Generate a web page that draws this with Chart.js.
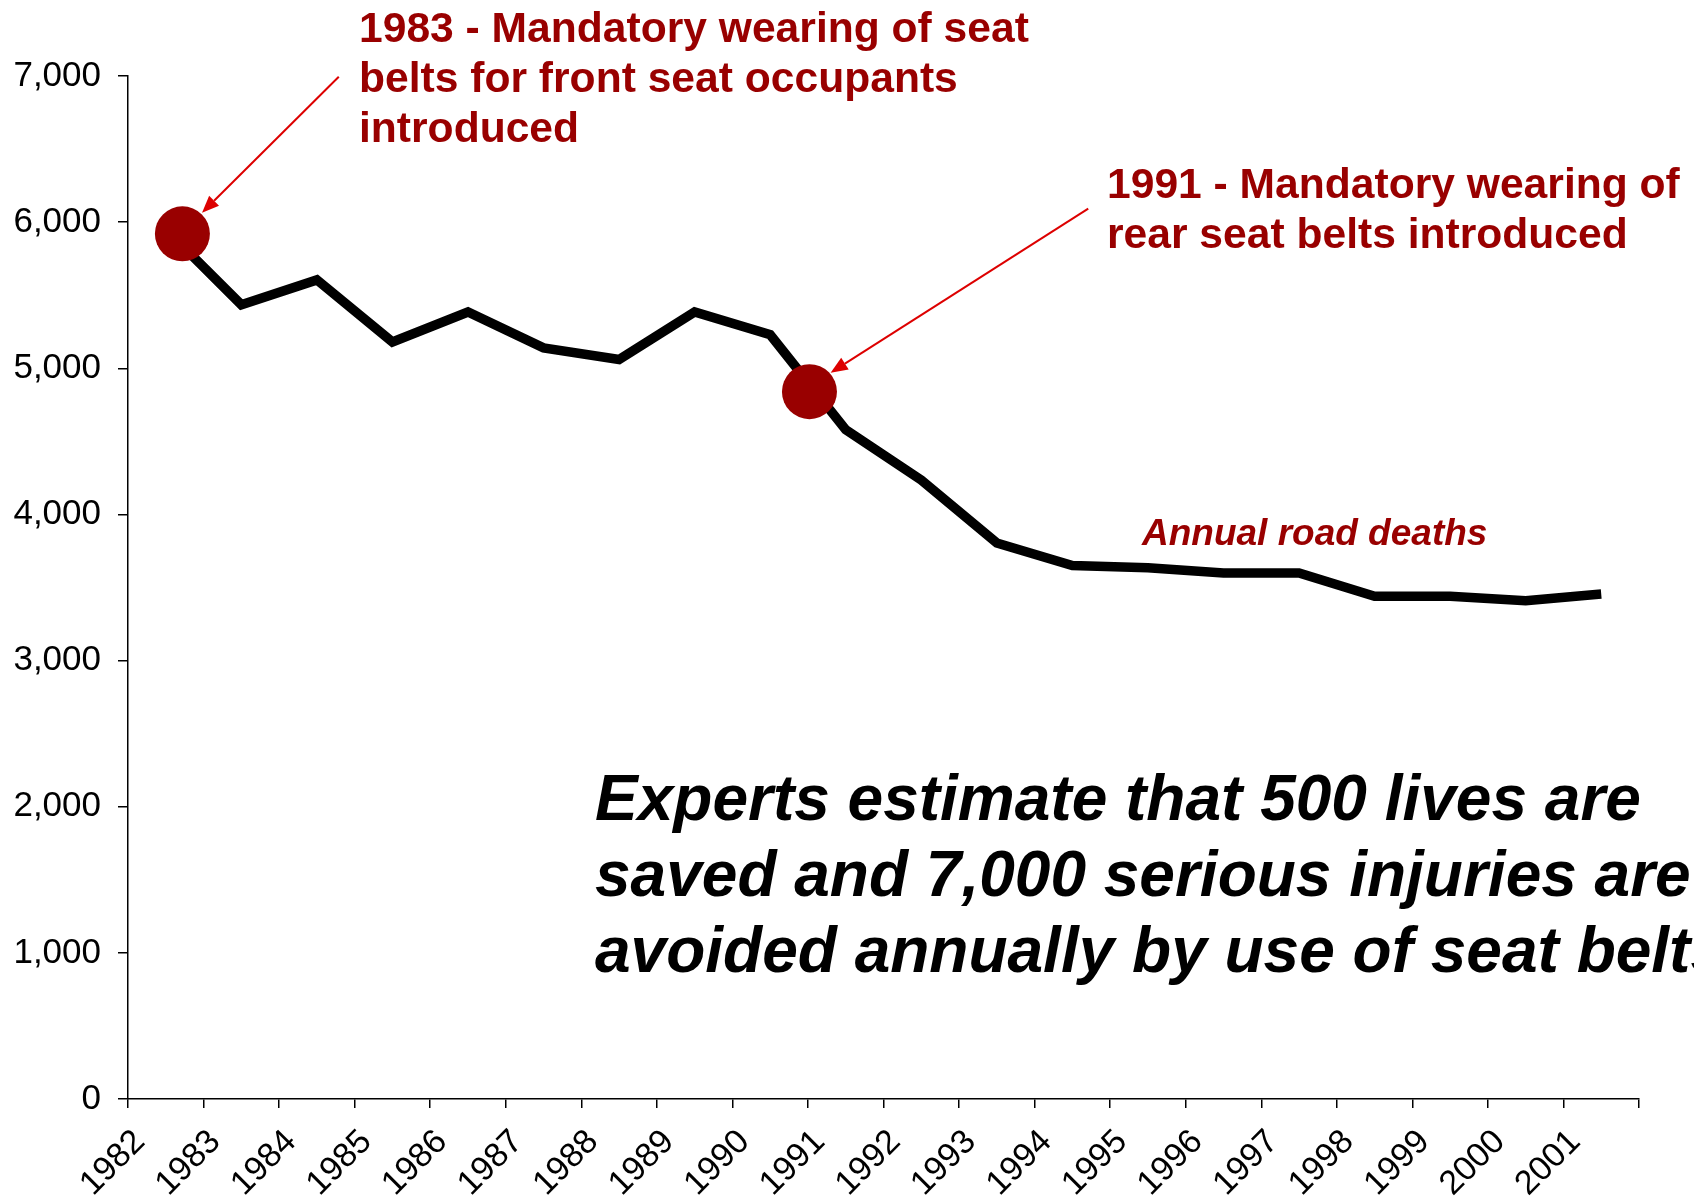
<!DOCTYPE html>
<html>
<head>
<meta charset="utf-8">
<script src="https://cdn.jsdelivr.net/npm/chart.js@4.4.0/dist/chart.umd.min.js"></script>
<style>
    html, body { margin: 0; padding: 0; background: #fff; }
    #wrap { width: 1694px; height: 1199px; }
</style>
</head>
<body>
<div id="wrap"><canvas id="deathsChart" width="1694" height="1199"></canvas></div>
<script>
// Dados do gráfico
const years = ['1982', '1983', '1984', '1985', '1986', '1987', '1988', '1989', '1990', '1991',
               '1992', '1993', '1994', '1995', '1996', '1997', '1998', '1999', '2000', '2001'];
const roadDeaths = [5950, 5435, 5605, 5180, 5385, 5140, 5060, 5385, 5230, 4580,
                    4235, 3805, 3650, 3635, 3600, 3600, 3440, 3440, 3410, 3455];
const yTicks = [0, 1000, 2000, 3000, 4000, 5000, 6000, 7000];

// Marcadores das leis (índice de categoria fracionário, valor)
const markerIndex = [0.22, 8.52];
const markerValue = [5920, 4840];
// Setas: do texto até o marcador
const arrowFromIndex = [2.29, 12.21];
const arrowFromValue = [6995, 6092];
const arrowToIndex = [0.48, 8.8];
const arrowToValue = [6064, 4969];

const FONT = "'Liberation Sans', Arial, sans-serif";
const DARK_RED = '#990000';

const annotations = {
    id: 'annotations',
    afterDatasetsDraw(chart) {
        const ctx = chart.ctx;
        const x = chart.scales.x;
        const y = chart.scales.y;
        ctx.save();

        // Círculos
        ctx.fillStyle = DARK_RED;
        markerIndex.forEach((idx, i) => {
            ctx.beginPath();
            ctx.arc(x.getPixelForValue(idx), y.getPixelForValue(markerValue[i]), 27.5, 0, Math.PI * 2);
            ctx.fill();
        });

        // Setas
        ctx.strokeStyle = '#dd0000';
        ctx.fillStyle = '#dd0000';
        ctx.lineWidth = 2;
        arrowFromIndex.forEach((idx, i) => {
            const x1 = x.getPixelForValue(idx), y1 = y.getPixelForValue(arrowFromValue[i]);
            const x2 = x.getPixelForValue(arrowToIndex[i]), y2 = y.getPixelForValue(arrowToValue[i]);
            const ang = Math.atan2(y2 - y1, x2 - x1);
            const head = 17, half = 7;
            const bx = x2 - head * Math.cos(ang), by = y2 - head * Math.sin(ang);
            ctx.beginPath();
            ctx.moveTo(x1, y1);
            ctx.lineTo(bx, by);
            ctx.stroke();
            ctx.beginPath();
            ctx.moveTo(x2, y2);
            ctx.lineTo(bx + half * Math.sin(ang), by - half * Math.cos(ang));
            ctx.lineTo(bx - half * Math.sin(ang), by + half * Math.cos(ang));
            ctx.closePath();
            ctx.fill();
        });

        // Textos
        ctx.textAlign = 'left';
        ctx.textBaseline = 'alphabetic';
        ctx.fillStyle = DARK_RED;
        ctx.font = 'bold 42.6px ' + FONT;
        ['1983 - Mandatory wearing of seat', 'belts for front seat occupants', 'introduced']
            .forEach((t, i) => ctx.fillText(t, 359, 42 + i * 50));
        ['1991 - Mandatory wearing of', 'rear seat belts introduced']
            .forEach((t, i) => ctx.fillText(t, 1107, 198 + i * 50));

        ctx.font = 'italic bold 37px ' + FONT;
        ctx.fillText('Annual road deaths', 1142, 545);

        ctx.fillStyle = '#000';
        ctx.font = 'italic bold 64px ' + FONT;
        ['Experts estimate that 500 lives are', 'saved and 7,000 serious injuries are', 'avoided annually by use of seat belts']
            .forEach((t, i) => ctx.fillText(t, 595, 820 + i * 76));

        ctx.restore();
    }
};

const chartCtx = document.getElementById('deathsChart').getContext('2d');
const deathsChart = new Chart(chartCtx, {
    type: 'line',
    data: {
        labels: years,
        datasets: [{
            label: 'Annual road deaths',
            data: roadDeaths,
            borderColor: '#000',
            borderWidth: 9.5,
            borderJoinStyle: 'miter',
            pointRadius: 0,
            tension: 0,
            fill: false
        }]
    },
    options: {
        responsive: false,
        animation: false,
        layout: { padding: { top: 76, right: 55, left: 0, bottom: 0 } },
        scales: {
            x: {
                offset: true,
                afterFit: scale => { scale.height = 100; },
                grid: { display: true, drawOnChartArea: false, offset: true, tickLength: 9, color: '#000', lineWidth: 1.5 },
                border: { display: true, color: '#000', width: 1.5 },
                ticks: {
                    autoSkip: false,
                    minRotation: 45,
                    maxRotation: 45,
                    labelOffset: -26,
                    padding: 14,
                    color: '#000',
                    font: { family: FONT, size: 34 }
                }
            },
            y: {
                min: 0,
                max: 7000,
                afterFit: scale => { scale.width = 128; },
                afterBuildTicks: scale => { scale.ticks = yTicks.map(v => ({ value: v })); },
                grid: { display: true, drawOnChartArea: false, tickLength: 10, color: '#000', lineWidth: 1.5 },
                border: { display: true, color: '#000', width: 1.5 },
                ticks: {
                    padding: 17,
                    color: '#000',
                    font: { family: FONT, size: 35 },
                    callback: v => v.toLocaleString('en-US')
                }
            }
        },
        plugins: {
            legend: { display: false },
            tooltip: { enabled: false }
        }
    },
    plugins: [annotations]
});
</script>
</body>
</html>
